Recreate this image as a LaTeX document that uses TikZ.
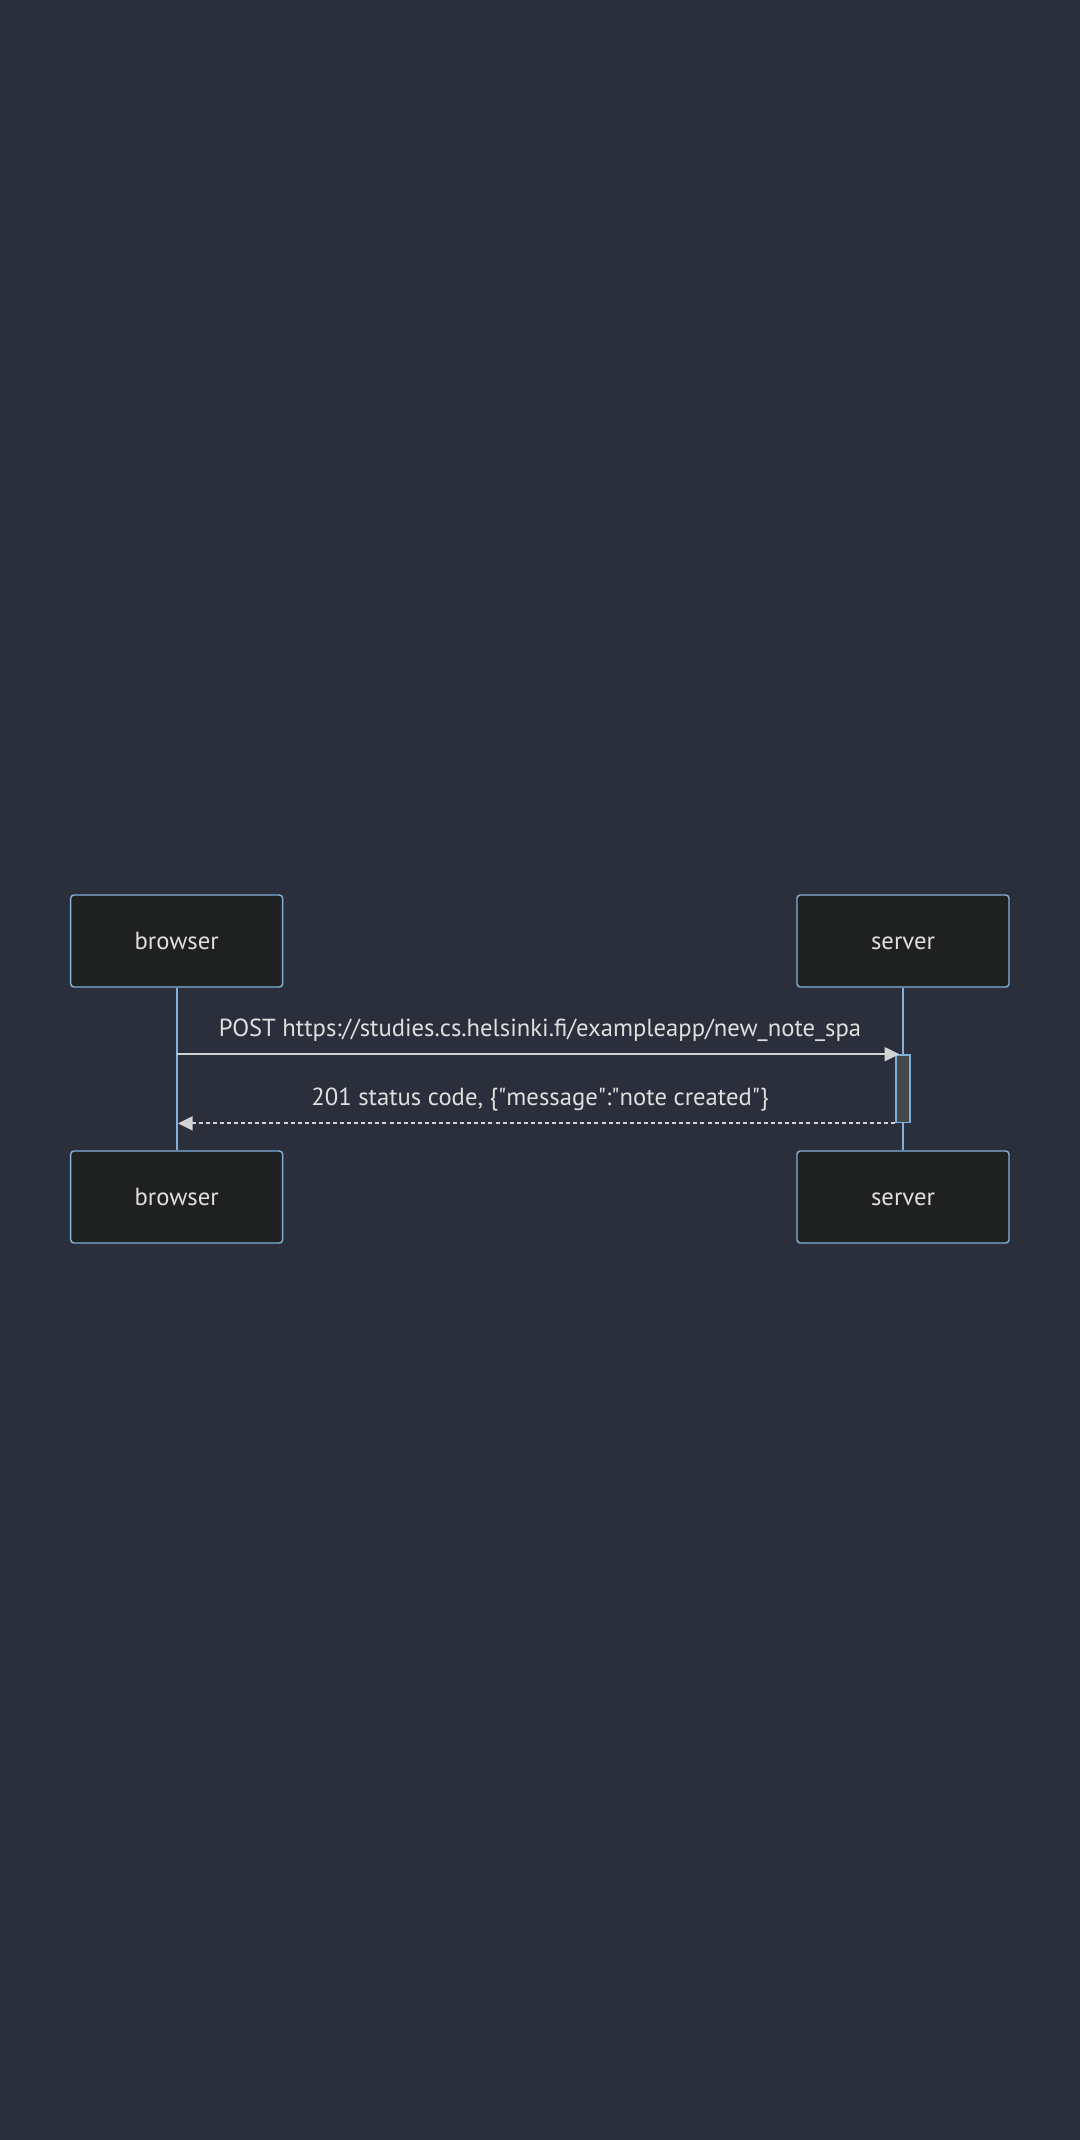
\documentclass[tikz,border=0pt]{standalone}
\usepackage{fontspec}
\setmainfont{PT Sans}
\usepackage{tikz}
\usetikzlibrary{arrows.meta, positioning, calc, backgrounds}
\definecolor{bgcol}{HTML}{2A2F3B}
\definecolor{actorfill}{HTML}{1F2020}
\definecolor{actorline}{HTML}{81B1DB}
\definecolor{msgtext}{HTML}{E0DFDF}
\definecolor{msgline}{HTML}{D3D3D3}
\definecolor{actfill}{HTML}{474949}

\begin{document}
\begin{tikzpicture}[
    x=0.75pt, y=-0.75pt,
    actor/.style={
        rectangle, rounded corners=2.5pt,
        draw=actorline, fill=actorfill, line width=1.1pt,
        minimum width=159pt, minimum height=69pt,
        text height=14pt, text depth=1.6pt,
        text=msgtext, font=\fontsize{18.5}{22}\selectfont,
    },
    activation/.style={
        rectangle, draw=actorline, fill=actfill, line width=1.1pt,
        minimum width=10.5pt, minimum height=50.8pt, inner sep=0pt,
    },
    lifeline/.style={draw=actorline, line width=1.6pt},
    msg/.style={
        draw=msgline, line width=1.5pt,
        -{Triangle[length=11pt, width=10.5pt, fill=msgline]},
    },
    reply/.style={
        msg, dash pattern=on 3pt off 2.3pt,
    },
    msglabel/.style={
        text=msgtext, font=\fontsize{18.5}{22}\selectfont, inner sep=0pt,
    },
]

% ── Canvas ──────────────────────────────────────────────────────────────────
\useasboundingbox[fill=bgcol] (0,0) rectangle (1080,2140);

% ── Participants ────────────────────────────────────────────────────────────
\node[actor] (browser)  at (176.7, 941)  {browser};
\node[actor] (server)   at (903, 941)    {server};
\node[actor] (browserB) at (176.7, 1197) {browser};
\node[actor] (serverB)  at (903, 1197)   {server};

% ── Lifelines ───────────────────────────────────────────────────────────────
\draw[lifeline] (browser.south) -- (browserB.north);
\draw[lifeline] (server.south) -- (serverB.north);

% ── Activation on server ────────────────────────────────────────────────────
\node[activation] (act) at (903, 1088.8) {};

\coordinate (b1) at (browser.south |- act.north);
\coordinate (b2) at (browser.south |- act.south);

% ── Messages ────────────────────────────────────────────────────────────────
\node[msglabel, anchor=base] (l1) at (540, 1036.7)
    {POST https://studies.cs.helsinki.fi/exampleapp/new\_note\_spa};
\draw[msg] (b1) -- ($(act.north west)+(4,0)$);

\node[msglabel, anchor=base] (l2) at (540, 1105)
    {201 status code, \{\textquotedbl message\textquotedbl:\textquotedbl note created\textquotedbl\}};
\draw[reply, shorten >=1pt] (act.south west) -- (b2);

\end{tikzpicture}
\end{document}
